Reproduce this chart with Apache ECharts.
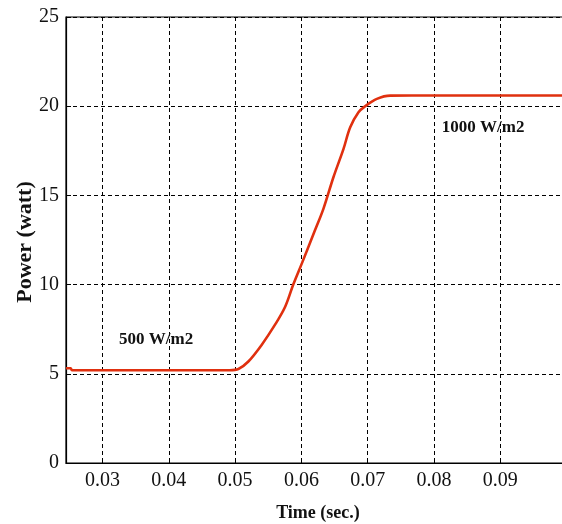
<!DOCTYPE html>
<html>
<head>
<meta charset="utf-8">
<script src="https://cdn.jsdelivr.net/npm/echarts@6/dist/echarts.min.js"></script>
<style>html,body{margin:0;padding:0;background:#fff}#c{width:562px;height:524px}</style>
</head>
<body>
<div id="c"></div>
<script>
const timeValues = [0.0245, 0.0252, 0.0254, 0.030, 0.040, 0.0492, 0.0505, 0.0520, 0.0540, 0.0560, 0.05755, 0.0588, 0.06007, 0.0620, 0.06333, 0.06484, 0.06635, 0.06736, 0.06861, 0.06962, 0.07138, 0.0734, 0.080, 0.090, 0.0996];
const powerValues = [5.31, 5.31, 5.2, 5.2, 5.2, 5.2, 5.27, 5.69, 6.62, 7.74, 8.76, 10.03, 11.19, 13.0, 14.26, 16.03, 17.61, 18.82, 19.66, 20.0, 20.41, 20.59, 20.6, 20.6, 20.6];
const yTicks = [0, 5, 10, 15, 20, 25];
const yTitle = 'Power (watt)';
const xTitle = 'Time (sec.)';
const annotations = [
  { text: '500 W/m2', coord: [0.0381, 6.9] },
  { text: '1000 W/m2', coord: [0.0874, 18.82] }
];

const chart = echarts.init(document.getElementById('c'), null, { renderer: 'canvas' });
const serif = '"Liberation Serif", "DejaVu Serif", serif';
const dash = { color: '#000', type: [4, 3], width: 1 };

chart.setOption({
  animation: false,
  backgroundColor: '#fff',
  grid: { left: 66, top: 17, right: -2, bottom: 61, show: true, borderColor: '#000', borderWidth: 1.2, outerBoundsMode: 'none', containLabel: false },
  graphic: [{
    type: 'text',
    x: 25, y: 242,
    rotation: Math.PI / 2,
    silent: true,
    style: { text: yTitle, fontFamily: serif, fontWeight: 'bold', fontSize: 22, fill: '#111', align: 'center', verticalAlign: 'middle' }
  }],
  xAxis: {
    type: 'value',
    min: 0.0245,
    max: 0.0996,
    splitNumber: 7,
    name: xTitle,
    nameLocation: 'middle',
    nameGap: 41,
    nameTextStyle: { fontFamily: serif, fontWeight: 'bold', fontSize: 18, color: '#111', padding: [0, 0, 0, 6] },
    axisLine: { show: true, lineStyle: { color: '#000', width: 1.2 } },
    axisTick: { show: true, inside: true, length: 5, lineStyle: { color: '#000' } },
    axisLabel: {
      fontFamily: serif, fontSize: 20, color: '#111', margin: 8,
      showMinLabel: false, showMaxLabel: false,
      formatter: v => {
        const k = Math.round(v * 100);
        return Math.abs(v * 100 - k) < 1e-6 ? (k / 100).toFixed(2) : '';
      }
    },
    splitLine: { show: true, lineStyle: dash }
  },
  yAxis: {
    type: 'value',
    min: yTicks[0],
    max: yTicks[yTicks.length - 1],
    interval: yTicks[1] - yTicks[0],
    axisLine: { show: true, lineStyle: { color: '#000', width: 1.2 } },
    axisTick: { show: true, inside: true, length: 5, lineStyle: { color: '#000' } },
    axisLabel: { fontFamily: serif, fontSize: 20, color: '#111', margin: 7 },
    splitLine: { show: true, lineStyle: dash }
  },
  series: [{
    type: 'line',
    data: timeValues.map((t, i) => [t, powerValues[i]]),
    showSymbol: false,
    smooth: 0.35,
    lineStyle: { color: '#e0300f', width: 2.6 },
    markPoint: {
      symbol: 'circle',
      symbolSize: 0,
      silent: true,
      label: {
        show: true, position: 'inside', fontFamily: serif, fontWeight: 'bold', fontSize: 17, color: '#111',
        formatter: p => p.name
      },
      data: annotations.map(a => ({ name: a.text, coord: a.coord }))
    }
  }]
});
</script>
</body>
</html>
